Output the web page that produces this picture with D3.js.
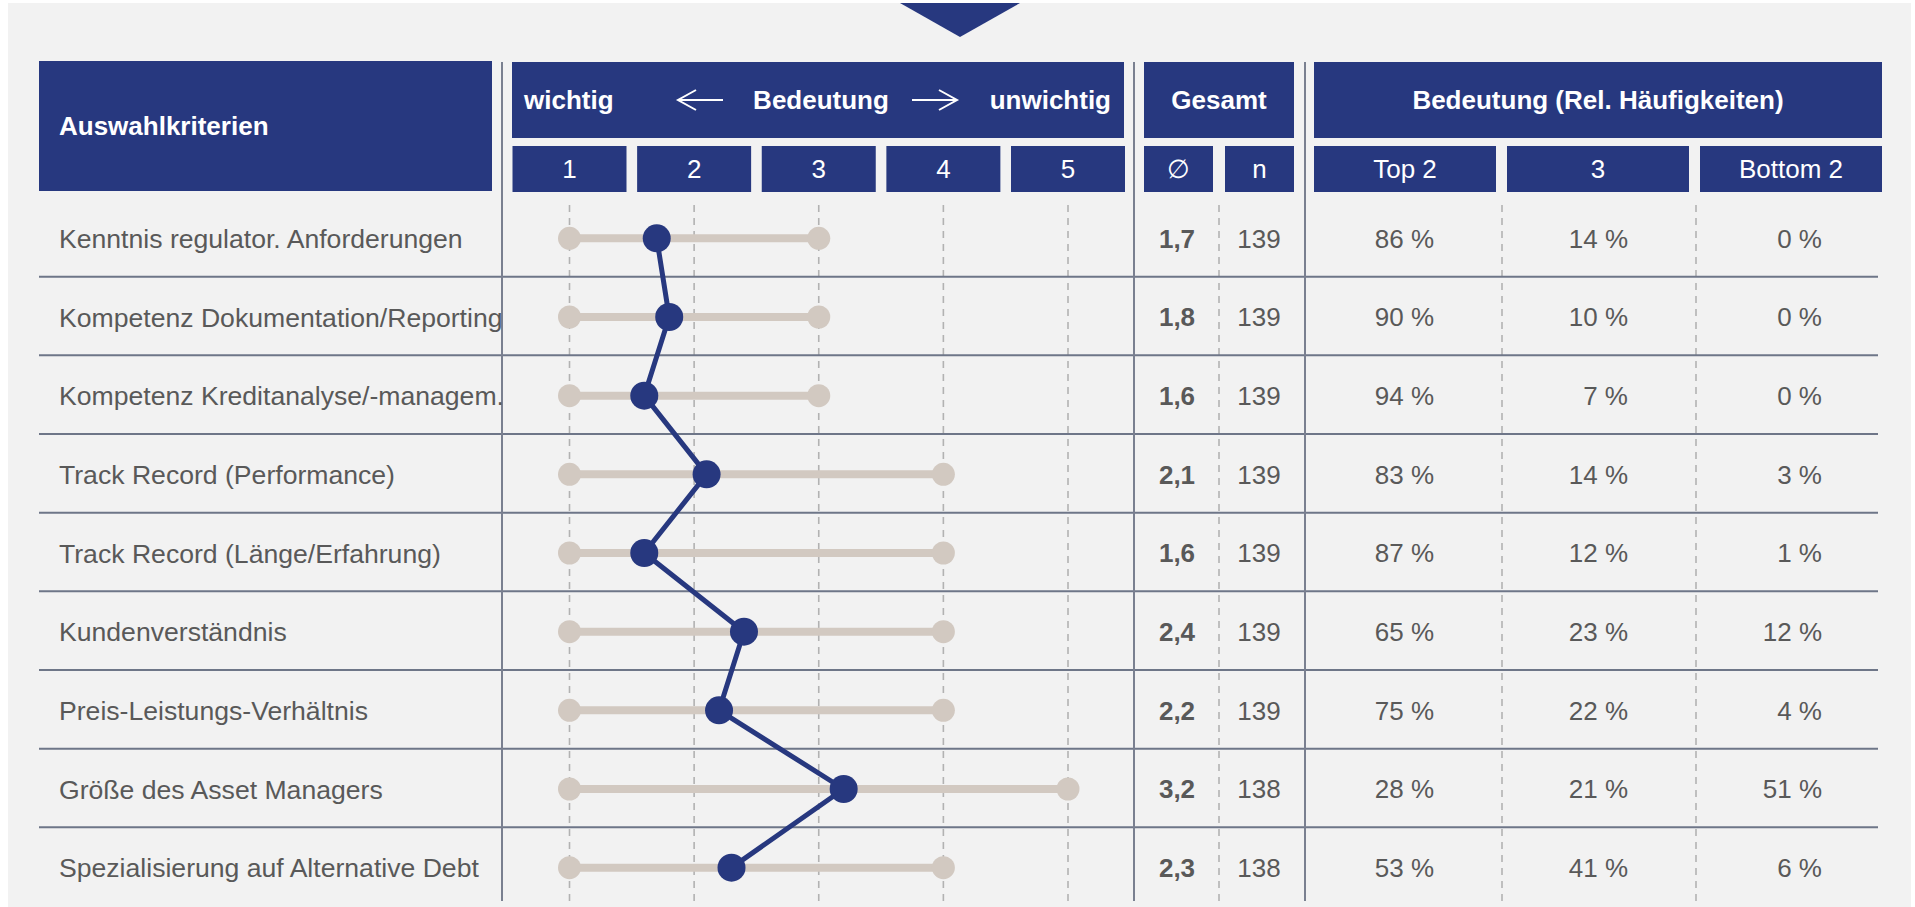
<!doctype html>
<html>
<head>
<meta charset="utf-8">
<title>Auswahlkriterien</title>
<script src="https://cdn.jsdelivr.net/npm/d3@7"></script>
<style>
  body { margin:0; background:#ffffff; }
  svg text { font-family:"Liberation Sans", Arial, Helvetica, sans-serif; }
</style>
</head>
<body>
<script>
// data
var criteria = [
  "Kenntnis regulator. Anforderungen",
  "Kompetenz Dokumentation/Reporting",
  "Kompetenz Kreditanalyse/-managem.",
  "Track Record (Performance)",
  "Track Record (Länge/Erfahrung)",
  "Kundenverständnis",
  "Preis-Leistungs-Verhältnis",
  "Größe des Asset Managers",
  "Spezialisierung auf Alternative Debt"
];
var means   = [1.7, 1.8, 1.6, 2.1, 1.6, 2.4, 2.2, 3.2, 2.3];
var minVals = [1, 1, 1, 1, 1, 1, 1, 1, 1];
var maxVals = [3, 3, 3, 4, 4, 4, 4, 5, 4];
var nVals   = [139, 139, 139, 139, 139, 139, 139, 138, 138];
var top2    = [86, 90, 94, 83, 87, 65, 75, 28, 53];
var mid3    = [14, 10, 7, 14, 12, 23, 22, 21, 41];
var bottom2 = [0, 0, 0, 3, 1, 12, 4, 51, 6];
var scaleTicks = [1, 2, 3, 4, 5];
var freqHeaders = ["Top 2", "3", "Bottom 2"];

var rows = criteria.map(function(c, i) {
  return { name:c, mean:means[i], min:minVals[i], max:maxVals[i], n:nVals[i],
           freq:[top2[i], mid3[i], bottom2[i]] };
});

var w = 1915, h = 907;
var navy = "#27387f", grey = "#595959", rule = "#6e7688";
var de = d3.formatLocale({decimal:",", thousands:".", grouping:[3], currency:["","€"]});
var fmt1 = de.format(".1f");

var svg = d3.select("body").append("svg").attr("width", w).attr("height", h);

// panel + triangle
svg.append("rect").attr("x", 8).attr("y", 3).attr("width", 1903).attr("height", 904).attr("fill", "#f2f2f2");
svg.append("path").attr("d", "M900,3 L1020,3 L960,37 Z").attr("fill", navy);

var x = d3.scaleLinear().domain([1, 5]).range([569.5, 1068]);
var y = d3.scaleBand().domain(criteria).range([199, 907]);
var cy = function(d) { return y(d.name) + y.bandwidth() / 2; };

var headTop = 62, headH = 76, subTop = 146, subH = 46, gridTop = 205, gridBot = 901;

function box(x0, y0, bw, bh, label, bold, anchor, tx) {
  svg.append("rect").attr("x", x0).attr("y", y0).attr("width", bw).attr("height", bh).attr("fill", navy);
  svg.append("text").attr("x", tx !== undefined ? tx : x0 + bw / 2).attr("y", y0 + bh / 2)
     .attr("dy", "0.36em").attr("text-anchor", anchor || "middle")
     .attr("font-size", "26px").attr("font-weight", bold ? "bold" : "normal")
     .attr("fill", "#ffffff").text(label);
}

// header blocks
box(39, 61, 453, 130, "Auswahlkriterien", true, "start", 59);
box(512, headTop, 612, headH, "wichtig", true, "start", 524);
svg.append("text").attr("x", 821).attr("y", headTop + headH / 2).attr("dy", "0.36em")
   .attr("text-anchor", "middle").attr("font-size", "26px").attr("font-weight", "bold")
   .attr("fill", "#fff").text("Bedeutung");
svg.append("text").attr("x", 1111).attr("y", headTop + headH / 2).attr("dy", "0.36em")
   .attr("text-anchor", "end").attr("font-size", "26px").attr("font-weight", "bold")
   .attr("fill", "#fff").text("unwichtig");
// arrows
var ay = headTop + headH / 2;
svg.append("path").attr("fill", "none").attr("stroke", "#fff").attr("stroke-width", 2)
   .attr("d", "M723," + ay + " L678," + ay + " M696," + (ay - 10) + " L678," + ay + " L696," + (ay + 10));
svg.append("path").attr("fill", "none").attr("stroke", "#fff").attr("stroke-width", 2)
   .attr("d", "M912," + ay + " L957," + ay + " M939," + (ay - 10) + " L957," + ay + " L939," + (ay + 10));

scaleTicks.forEach(function(t) {
  box(x(t) - 57, subTop, 114, subH, String(t), false);
});

box(1144, headTop, 150, headH, "Gesamt", true);
box(1144, subTop, 69, subH, "\u2205", false);
box(1225, subTop, 69, subH, "n", false);

box(1314, headTop, 568, headH, "Bedeutung (Rel. Häufigkeiten)", true);
var freqX = [1314, 1507, 1700];
freqHeaders.forEach(function(f, i) {
  box(freqX[i], subTop, 182, subH, f, false);
});

// grid lines
var dashX = scaleTicks.map(x).concat([1219, 1502, 1696]);
svg.selectAll("line.dash").data(dashX).enter().append("line")
   .attr("x1", function(d) { return d; }).attr("x2", function(d) { return d; })
   .attr("y1", gridTop).attr("y2", gridBot)
   .attr("stroke", "#b2b2b2").attr("stroke-width", 1.6).attr("stroke-dasharray", "7,6");

svg.selectAll("line.sep").data(rows.slice(0, -1)).enter().append("line")
   .attr("x1", 39).attr("x2", 1878)
   .attr("y1", function(d) { return y(d.name) + y.bandwidth() - 1; })
   .attr("y2", function(d) { return y(d.name) + y.bandwidth() - 1; })
   .attr("stroke", rule).attr("stroke-width", 2);

[502, 1134, 1305].forEach(function(vx) {
  svg.append("line").attr("x1", vx).attr("x2", vx).attr("y1", 62).attr("y2", gridBot)
     .attr("stroke", "#7a8090").attr("stroke-width", 2);
});

// range bars
svg.selectAll("line.range").data(rows).enter().append("line")
   .attr("x1", function(d) { return x(d.min); }).attr("x2", function(d) { return x(d.max); })
   .attr("y1", cy).attr("y2", cy)
   .attr("stroke", "#d2c9c1").attr("stroke-width", 8);
svg.selectAll("circle.lo").data(rows).enter().append("circle")
   .attr("cx", function(d) { return x(d.min); }).attr("cy", cy).attr("r", 11.5).attr("fill", "#d2c9c1");
svg.selectAll("circle.hi").data(rows).enter().append("circle")
   .attr("cx", function(d) { return x(d.max); }).attr("cy", cy).attr("r", 11.5).attr("fill", "#d2c9c1");

// mean profile
var line = d3.line().x(function(d) { return x(d.mean); }).y(cy);
svg.append("path").datum(rows).attr("d", line)
   .attr("fill", "none").attr("stroke", navy).attr("stroke-width", 5).attr("stroke-linejoin", "round");
svg.selectAll("circle.mean").data(rows).enter().append("circle")
   .attr("cx", function(d) { return x(d.mean); }).attr("cy", cy).attr("r", 14).attr("fill", navy);

// labels
function col(cls, xs, anchor, txt, weight, size) {
  svg.selectAll("text." + cls).data(rows).enter().append("text")
     .attr("x", xs).attr("y", cy).attr("dy", "0.36em")
     .attr("text-anchor", anchor).attr("font-size", size || "26px")
     .attr("font-weight", weight || "normal").attr("fill", grey).text(txt);
}
col("crit", 59, "start", function(d) { return d.name; }, "normal", "26.6px");
col("mean", 1177, "middle", function(d) { return fmt1(d.mean); }, "bold");
col("n", 1259, "middle", function(d) { return d.n; });
col("f0", 1434, "end", function(d) { return d.freq[0] + " %"; });
col("f1", 1628, "end", function(d) { return d.freq[1] + " %"; });
col("f2", 1822, "end", function(d) { return d.freq[2] + " %"; });
</script>
</body>
</html>
